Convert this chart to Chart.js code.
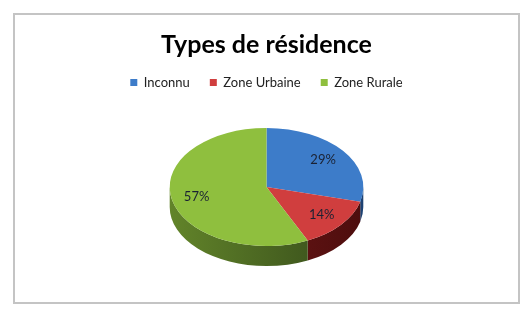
<!DOCTYPE html>
<html lang="fr">
<head>
<meta charset="UTF-8">
<title>Types de résidence</title>
<script src="https://cdn.jsdelivr.net/npm/chart.js"></script>
<style>
  body { margin: 0; background: #fff; }
  .cadre { position: absolute; left: 13px; top: 13px; width: 503px; height: 287px; border: 2px solid #c4c4c4; }
  .graph { position: absolute; left: 0; top: 0; width: 525px; height: 315px; }
</style>
</head>
<body>
<div class="cadre"></div>
<div class="graph"><canvas id="camembert" width="525" height="315"></canvas></div>
<script>
const categories = ['Inconnu', 'Zone Urbaine', 'Zone Rurale'];
const pourcentages = [29, 14, 57];
const couleurs = ['#3d7cc9', '#d03e3e', '#8fbf3e'];
// bord 3D : clair a gauche, sombre a droite
const coteClair = ['#2a5c99', '#7e1c1c', '#62842a'];
const coteSombre = ['#1d4273', '#4d0d0d', '#334819'];

const aplatir = 0.61;  // rapport vertical de l'ellipse
const epaisseur = 20;  // hauteur du bord 3D

const pie3d = {
  id: 'pie3d',
  beforeDatasetsDraw(chart) {
    const ctx = chart.ctx;
    const arcs = chart.getDatasetMeta(0).data;
    const cx = arcs[0].x, cy = arcs[0].y, r = arcs[0].outerRadius;

    // bord (moitie avant seulement)
    arcs.forEach((arc, i) => {
      for (let k = -1; k <= 1; k++) {
        const s = Math.max(arc.startAngle + k * 2 * Math.PI, 0);
        const e = Math.min(arc.endAngle + k * 2 * Math.PI, Math.PI);
        if (e <= s) continue;
        const grad = ctx.createLinearGradient(cx - r, 0, cx + r, 0);
        grad.addColorStop(0, coteClair[i]);
        grad.addColorStop(1, coteSombre[i]);
        ctx.beginPath();
        ctx.ellipse(cx, cy, r, r * aplatir, 0, s, e);
        ctx.ellipse(cx, cy + epaisseur, r, r * aplatir, 0, e, s, true);
        ctx.closePath();
        ctx.fillStyle = grad;
        ctx.fill();
      }
    });

    ctx.save();
    ctx.translate(cx, cy);
    ctx.scale(1, aplatir);
    ctx.translate(-cx, -cy);
  },
  afterDatasetsDraw(chart) {
    const ctx = chart.ctx;
    ctx.restore();
    const arcs = chart.getDatasetMeta(0).data;
    ctx.save();
    ctx.font = '13px Lato, "Open Sans", sans-serif';
    ctx.fillStyle = '#1b2233';
    ctx.textAlign = 'center';
    ctx.textBaseline = 'middle';
    arcs.forEach((arc, i) => {
      const mid = (arc.startAngle + arc.endAngle) / 2;
      const f = 0.74 * arc.outerRadius;
      const x = arc.x + Math.cos(mid) * f;
      const y = arc.y + Math.sin(mid) * f * aplatir;
      ctx.fillText(pourcentages[i] + '%', x, y);
    });
    ctx.restore();
  }
};

new Chart(document.getElementById('camembert'), {
  type: 'pie',
  data: {
    labels: categories,
    datasets: [{
      data: pourcentages,
      backgroundColor: couleurs,
      borderWidth: 0,
      radius: '110%'
    }]
  },
  options: {
    responsive: false,
    animation: false,
    events: [],
    layout: { padding: { left: 8, right: 0, top: 0, bottom: 40 } },
    plugins: {
      title: {
        display: true,
        text: 'Types de résidence',
        color: '#000',
        font: { family: 'Lato, "Open Sans", sans-serif', size: 25, weight: 'bold' },
        padding: { top: 30, bottom: -4 }
      },
      legend: {
        position: 'top',
        labels: {
          color: '#222',
          font: { family: 'Lato, "Open Sans", sans-serif', size: 13 },
          boxWidth: 7,
          boxHeight: 7,
          padding: 20
        }
      },
      tooltip: { enabled: false }
    }
  },
  plugins: [pie3d]
});
</script>
</body>
</html>
